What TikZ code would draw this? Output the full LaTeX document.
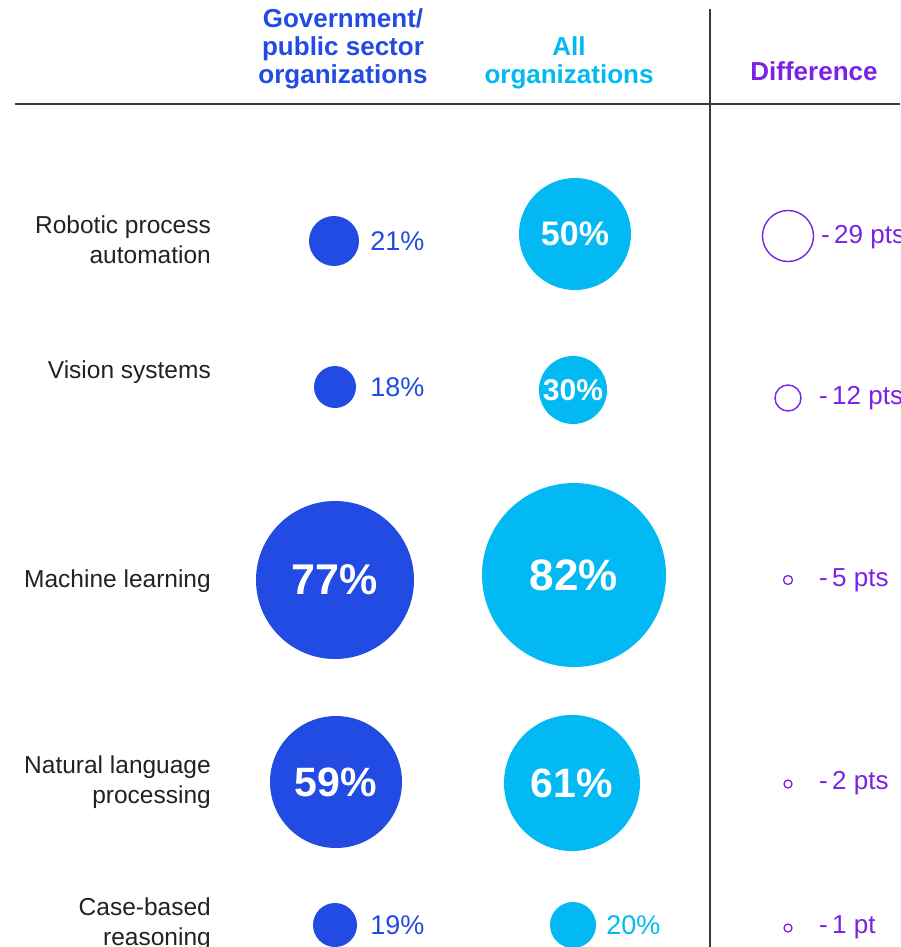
\documentclass[tikz,border=0pt]{standalone}
\usepackage{fontspec}
\setmainfont{Liberation Sans}
\usetikzlibrary{positioning}
\definecolor{govblue}{HTML}{214BE3}
\definecolor{allcyan}{HTML}{02B9F4}
\definecolor{diffpurple}{HTML}{7B22E8}
\definecolor{labelgray}{HTML}{222222}
\definecolor{rulegray}{HTML}{3A3A3A}
\tikzset{
  govdot/.style={circle, fill=govblue, inner sep=0pt, text=white},
  alldot/.style={circle, fill=allcyan, inner sep=0pt, text=white},
  diffdot/.style={circle, draw=diffpurple, line width=1.4pt, inner sep=0pt},
  inlabel/.style={font=\bfseries\fontsize{#1}{#1}\selectfont},
  rowlabel/.style={align=right, anchor=east, inner sep=0pt, text=labelgray,
    font=\fontsize{24.5}{30}\selectfont},
  pctlabel/.style={anchor=west, inner sep=0pt, font=\fontsize{27}{27}\selectfont},
  difflabel/.style={anchor=west, inner sep=0pt, text=diffpurple,
    font=\fontsize{26}{26}\selectfont},
  headlabel/.style={align=center, inner sep=0pt, font=\bfseries\fontsize{26}{28}\selectfont}
}
\begin{document}
\begin{tikzpicture}[x=1pt, y=-1pt]
  \useasboundingbox (0,0) rectangle (900,947);
  % header
  \node[headlabel, text=govblue] (hgov) at (343,49) {Government/\\public sector\\organizations};
  \node[headlabel, text=allcyan] (hall) at (569,63) {All\\organizations};
  \node[headlabel, text=diffpurple] (hdiff) at (814,71) {Difference};
  \draw[rulegray, line width=1.2pt] (15,104) -- (900,104);
  \draw[rulegray, line width=1.2pt] (710,9) -- (710,947);

  % robotic process automation
  \node[rowlabel] (l1) at (211,240) {Robotic process\\automation};
  \node[govdot, minimum size=50pt] (g1) at (334,241) {};
  \node[pctlabel, text=govblue, right=11pt of g1] (p1) {21\%};
  \node[alldot, minimum size=112pt, inlabel=34] (a1) at (575,234) {50\%};
  \node[diffdot, minimum size=51pt] (d1) at (788,236) {};
  \node[difflabel] (t1) at (821,237) {-\,29 pts};

  % vision systems
  \node[rowlabel] (l2) at (211,372) {Vision systems};
  \node[govdot, minimum size=42pt] (g2) at (335,387) {};
  \node[pctlabel, text=govblue, right=14pt of g2] (p2) {18\%};
  \node[alldot, minimum size=68pt, inlabel=30] (a2) at (573,390) {30\%};
  \node[diffdot, minimum size=26pt] (d2) at (788,398) {};
  \node[difflabel] (t2) at (819,398) {-\,12 pts};

  % machine learning
  \node[rowlabel] (l3) at (211,581) {Machine learning};
  \node[govdot, minimum size=158pt, inlabel=43] (g3) at (335,580) {77\%};
  \node[alldot, minimum size=184pt, inlabel=44] (a3) at (574,575) {82\%};
  \node[diffdot, minimum size=9pt, line width=1.3pt] (d3) at (788,580) {};
  \node[difflabel] (t3) at (819,580) {-\,5 pts};

  % natural language processing
  \node[rowlabel] (l4) at (211,782) {Natural language\\processing};
  \node[govdot, minimum size=132pt, inlabel=41] (g4) at (336,782) {59\%};
  \node[alldot, minimum size=136pt, inlabel=41] (a4) at (572,783) {61\%};
  \node[diffdot, minimum size=8pt, line width=1.3pt] (d4) at (788,784) {};
  \node[difflabel] (t4) at (819,783) {-\,2 pts};

  % case-based reasoning
  \node[rowlabel] (l5) at (211,924) {Case-based\\reasoning};
  \node[govdot, minimum size=44pt] (g5) at (335,925) {};
  \node[pctlabel, text=govblue, right=13pt of g5] (p5) {19\%};
  \node[alldot, minimum size=46pt] (a5) at (573,925) {};
  \node[pctlabel, text=allcyan, right=10pt of a5] (q5) {20\%};
  \node[diffdot, minimum size=8pt, line width=1.3pt] (d5) at (788,928) {};
  \node[difflabel] (t5) at (819,927) {-\,1 pt};
\end{tikzpicture}
\end{document}
